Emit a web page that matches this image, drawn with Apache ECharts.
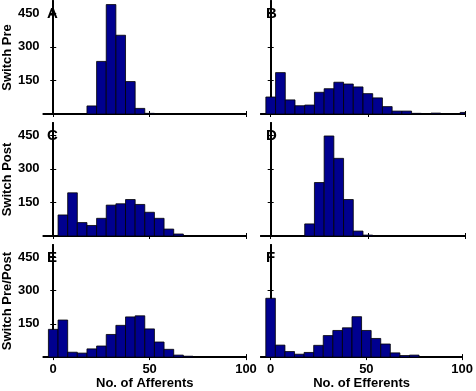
<!DOCTYPE html>
<html><head><meta charset="utf-8">
<script src="https://cdn.jsdelivr.net/npm/echarts@6/dist/echarts.min.js"></script>
<style>html,body{margin:0;padding:0;background:#fff}#c{width:476px;height:391px}</style>
</head><body><div id="c"></div>
<script>
// ---- data (histogram bins, width 5) ----
const binWidth = 5;
const centersA = [20, 25, 30, 35, 40, 45, 50];
const countsA  = [36, 235, 489, 352, 145, 25, 3];
const centersB = [0, 5, 10, 15, 20, 25, 30, 35, 40, 45, 50, 55, 60, 65, 70, 75, 85, 100];
const countsB  = [76, 185, 63, 37, 40, 97, 113, 142, 134, 121, 91, 72, 33, 13, 13, 3, 4, 7];
const centersC = [5, 10, 15, 20, 25, 30, 35, 40, 45, 50, 55, 60, 65];
const countsC  = [94, 193, 60, 47, 79, 138, 144, 163, 141, 106, 79, 31, 9];
const centersD = [20, 25, 30, 35, 40, 45, 50];
const countsD  = [54, 239, 447, 347, 163, 22, 4];
const centersE = [0, 5, 10, 15, 20, 25, 30, 35, 40, 45, 50, 55, 60, 65, 70];
const countsE  = [125, 167, 22, 18, 37, 50, 102, 143, 181, 186, 127, 68, 35, 9, 4];
const centersF = [0, 5, 10, 15, 20, 25, 30, 35, 40, 45, 50, 55, 60, 65, 70, 75];
const countsF  = [265, 54, 25, 13, 21, 53, 97, 120, 132, 182, 120, 84, 59, 19, 7, 9];

const panelLetters = ['A', 'B', 'C', 'D', 'E', 'F'];
const rowTitles = ['Switch Pre', 'Switch Post', 'Switch Pre/Post'];
const colTitles = ['No. of Afferents', 'No. of Efferents'];
const xTicks = [0, 50, 100];
const yTicks = [150, 300, 450];
const xRange = [-5, 100];
const yRange = [0, 505];

const panelData = [
  [centersA, countsA], [centersB, countsB],
  [centersC, countsC], [centersD, countsD],
  [centersE, countsE], [centersF, countsF]
];

// ---- layout ----
const colLeft = [42, 261];
const colWidth = 204;
const rowTop = [1, 123, 245];
const rowHeight = 113;
const FONT = '"Liberation Sans", Arial, Helvetica, sans-serif';
const barFill = '#00008F';

const grids = [], xAxes = [], yAxes = [], series = [], graphics = [];
const lineStyle = { color: '#000', width: 2 };
const tickStyle = { color: '#000', width: 1 };
const labelStyle = { color: '#000', fontFamily: FONT, fontWeight: 'bold', fontSize: 13 };

for (let i = 0; i < 6; i++) {
  const r = Math.floor(i / 2), c = i % 2;
  grids.push({ left: colLeft[c], top: rowTop[r], width: colWidth, height: rowHeight, show: false });
  const bottomRow = r === 2, leftCol = c === 0;
  // bottom x axis
  xAxes.push({
    type: 'value', gridIndex: i, position: 'bottom', min: xRange[0], max: xRange[1],
    axisLine: { show: true, lineStyle },
    axisTick: { show: true, inside: true, length: 3, customValues: xTicks, lineStyle: tickStyle },
    axisLabel: { show: bottomRow, customValues: xTicks, margin: 6, ...labelStyle },
    splitLine: { show: false },
    name: bottomRow ? colTitles[c] : '', nameLocation: 'middle', nameGap: 19,
    nameTextStyle: { ...labelStyle }
  });
  // top mirror x axis
  xAxes.push({
    type: 'value', gridIndex: i, position: 'top', min: xRange[0], max: xRange[1],
    axisLine: { show: true, lineStyle },
    axisTick: { show: true, inside: true, length: 3, customValues: xTicks, lineStyle: tickStyle },
    axisLabel: { show: false }, splitLine: { show: false }
  });
  // left y axis
  yAxes.push({
    type: 'value', gridIndex: i, position: 'left', min: yRange[0], max: yRange[1],
    axisLine: { show: true, lineStyle },
    axisTick: { show: true, inside: true, length: 3, customValues: yTicks, lineStyle: tickStyle },
    axisLabel: { show: leftCol, customValues: yTicks, margin: 4, ...labelStyle },
    splitLine: { show: false },
    name: leftCol ? rowTitles[r] : '', nameLocation: 'middle', nameRotate: 90, nameGap: 29,
    nameTextStyle: { ...labelStyle }
  });
  // right mirror y axis
  yAxes.push({
    type: 'value', gridIndex: i, position: 'right', min: yRange[0], max: yRange[1],
    axisLine: { show: true, lineStyle },
    axisTick: { show: true, inside: true, length: 3, customValues: yTicks, lineStyle: tickStyle },
    axisLabel: { show: false }, splitLine: { show: false }
  });

  const [centers, counts] = panelData[i];
  series.push({
    type: 'custom', xAxisIndex: 2 * i, yAxisIndex: 2 * i,
    data: centers.map((x, k) => [x, counts[k]]),
    renderItem: (params, api) => {
      const x = api.value(0), y = api.value(1);
      const p0 = api.coord([x - binWidth / 2, y]);
      const p1 = api.coord([x + binWidth / 2, 0]);
      const rect = echarts.graphic.clipRectByRect(
        { x: p0[0], y: p0[1], width: p1[0] - p0[0], height: p1[1] - p0[1] },
        { x: params.coordSys.x, y: params.coordSys.y, width: params.coordSys.width, height: params.coordSys.height }
      );
      if (!rect) return null;
      return { type: 'rect', shape: rect, style: { fill: barFill, stroke: '#000', lineWidth: 0.8 } };
    },
    z: 1
  });

  graphics.push({
    type: 'text', left: colLeft[c] + 5, top: rowTop[r] + 5,
    style: { text: panelLetters[i], fill: '#000', font: 'bold 15px ' + FONT }
  });
}

const chart = echarts.init(document.getElementById('c'));
chart.setOption({
  animation: false,
  backgroundColor: '#fff',
  grid: grids, xAxis: xAxes, yAxis: yAxes, series, graphic: graphics
});
</script>
</body></html>
